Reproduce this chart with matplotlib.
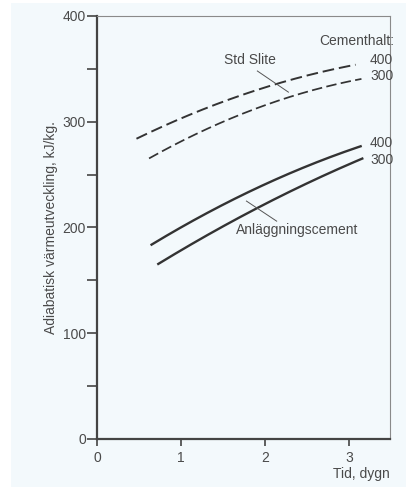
import numpy as np
import matplotlib
matplotlib.use("Agg")
import matplotlib.pyplot as plt
from matplotlib.patches import Rectangle

# Adiabatic heat development (kJ/kg) versus time (days)
slite_400_t = [0.47, 1.0, 1.5, 2.0, 2.5, 3.08]
slite_400_q = [281, 308, 320, 330, 341, 356]
slite_300_t = [0.62, 1.0, 1.5, 2.0, 2.5, 3.15]
slite_300_q = [262, 286, 301, 314, 326, 342]
anl_400_t = [0.65, 1.0, 1.5, 2.0, 2.5, 3.14]
anl_400_q = [181, 204, 222, 240, 256, 278]
anl_300_t = [0.73, 1.0, 1.5, 2.0, 2.5, 3.16]
anl_300_q = [164, 180, 202, 222, 240, 266]

x_ticks = [0, 1, 2, 3]
y_major = [0, 100, 200, 300, 400]
y_minor = [50, 150, 250, 350]

ink = "#333333"
txt = "#4a4a4a"
fs = 10
plt.rcParams["font.family"] = ["Liberation Sans", "DejaVu Sans"]

fig = plt.figure(figsize=(4.09, 4.87), dpi=100)
fig.patch.set_facecolor("white")
fig.patches.append(Rectangle((11 / 409, 0), 395 / 409, 1 - 3 / 487,
                             transform=fig.transFigure, facecolor="#f3f9fc",
                             edgecolor="none", zorder=-10))

ax = fig.add_axes([97 / 409, 1 - 439 / 487, 293 / 409, 423 / 487])
ax.set_facecolor("none")
ax.set_xlim(0, 3.49)
ax.set_ylim(0, 400)


def smooth(t, q):
    tt = np.linspace(t[0], t[-1], 200)
    c = np.polyfit(t, q, 2)
    return tt, np.polyval(c, tt)


for t, q, ls, lw in [(slite_400_t, slite_400_q, (0, (6, 2.5)), 1.4),
                     (slite_300_t, slite_300_q, (0, (6, 2.5)), 1.25),
                     (anl_400_t, anl_400_q, "-", 1.7),
                     (anl_300_t, anl_300_q, "-", 1.7)]:
    tt, qq = smooth(t, q)
    ax.plot(tt, qq, color=ink, linestyle=ls, linewidth=lw, clip_on=False)

# spines
for s in ["left", "bottom"]:
    ax.spines[s].set_color("#444444")
    ax.spines[s].set_linewidth(1.6)
for s in ["top", "right"]:
    ax.spines[s].set_color("#8a8a8a")
    ax.spines[s].set_linewidth(0.8)

ax.set_xticks(x_ticks)
ax.set_yticks(y_major)
ax.set_yticks(y_minor, minor=True)
ax.tick_params(axis="both", which="both", direction="out", color="#444444",
               labelcolor=txt, labelsize=fs, width=1.2)
ax.tick_params(axis="y", which="major", length=7, pad=1)
ax.tick_params(axis="y", which="minor", length=7)
ax.tick_params(axis="x", which="major", length=5, pad=4)

ax.set_ylabel("Adiabatisk värmeutveckling, kJ/kg.", color=txt, fontsize=fs,
              labelpad=3)
ax.text(3.49, -33, "Tid, dygn", color=txt, fontsize=fs, ha="right",
        va="center", clip_on=False)

# annotations
ax.text(3.54, 376, "Cementhalt:", color=txt, fontsize=fs, ha="right",
        va="center", clip_on=False)
for y, s in [(358, "400"), (343, "300"), (280, "400"), (264, "300")]:
    ax.text(3.39, y, s, color=txt, fontsize=fs, ha="center", va="center",
            clip_on=False)

ax.text(1.82, 358, "Std Slite", color=txt, fontsize=fs, ha="center",
        va="center")
ax.plot([1.91, 2.28], [348, 328], color="#555555", linewidth=0.7)
ax.text(2.39, 198, "Anläggningscement", color=txt, fontsize=fs,
        ha="center", va="center")
ax.plot([1.78, 2.14], [225, 206], color="#555555", linewidth=0.7)

fig.savefig("out.png", dpi=100)
